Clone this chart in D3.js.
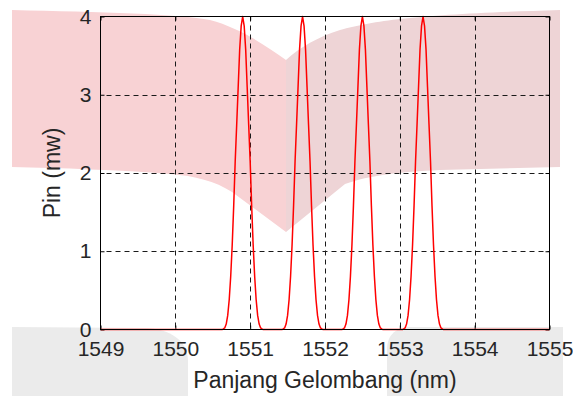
<!DOCTYPE html>
<html>
<head>
<meta charset="utf-8">
<script src="https://cdn.jsdelivr.net/npm/d3@7/dist/d3.min.js"></script>
<style>
  html, body { margin: 0; padding: 0; background: #fff; }
  svg { display: block; }
  text { font-family: "Liberation Sans", Arial, sans-serif; fill: #262626; }
</style>
</head>
<body>
<svg id="chart" width="573" height="396"></svg>
<script>
// Four DWDM channels: received power (mW) against wavelength (nm)
const wavelength = [
  1549.00,
  1550.63, 1550.66, 1550.68, 1550.70, 1550.72, 1550.74, 1550.76, 1550.78, 1550.80, 1550.82, 1550.84, 1550.86, 1550.88,
  1550.90,
  1550.92, 1550.94, 1550.96, 1550.98, 1551.00, 1551.02, 1551.04, 1551.06, 1551.08, 1551.10, 1551.12, 1551.14, 1551.17,
  1551.43, 1551.46, 1551.48, 1551.50, 1551.52, 1551.54, 1551.56, 1551.58, 1551.60, 1551.62, 1551.64, 1551.66, 1551.68,
  1551.70,
  1551.72, 1551.74, 1551.76, 1551.78, 1551.80, 1551.82, 1551.84, 1551.86, 1551.88, 1551.90, 1551.92, 1551.94, 1551.97,
  1552.23, 1552.26, 1552.28, 1552.30, 1552.32, 1552.34, 1552.36, 1552.38, 1552.40, 1552.42, 1552.44, 1552.46, 1552.48,
  1552.50,
  1552.52, 1552.54, 1552.56, 1552.58, 1552.60, 1552.62, 1552.64, 1552.66, 1552.68, 1552.70, 1552.72, 1552.74, 1552.77,
  1553.04, 1553.07, 1553.09, 1553.11, 1553.13, 1553.15, 1553.17, 1553.19, 1553.21, 1553.23, 1553.25, 1553.27, 1553.29,
  1553.31,
  1553.33, 1553.35, 1553.37, 1553.39, 1553.41, 1553.43, 1553.45, 1553.47, 1553.49, 1553.51, 1553.53, 1553.55, 1553.58,
  1555.00
];
const power = [
  0,
  0, 0.02, 0.07, 0.18, 0.38, 0.68, 1.08, 1.58, 2.15, 2.62, 3.10, 3.58, 3.88,
  4.00,
  3.88, 3.58, 3.10, 2.62, 2.15, 1.58, 1.08, 0.68, 0.38, 0.18, 0.07, 0.02, 0,
  0, 0.02, 0.07, 0.18, 0.38, 0.68, 1.08, 1.58, 2.15, 2.62, 3.10, 3.58, 3.88,
  4.00,
  3.88, 3.58, 3.10, 2.62, 2.15, 1.58, 1.08, 0.68, 0.38, 0.18, 0.07, 0.02, 0,
  0, 0.02, 0.07, 0.18, 0.38, 0.68, 1.08, 1.58, 2.15, 2.62, 3.10, 3.58, 3.88,
  4.00,
  3.88, 3.58, 3.10, 2.62, 2.15, 1.58, 1.08, 0.68, 0.38, 0.18, 0.07, 0.02, 0,
  0, 0.02, 0.07, 0.18, 0.38, 0.68, 1.08, 1.58, 2.15, 2.62, 3.10, 3.58, 3.88,
  4.00,
  3.88, 3.58, 3.10, 2.62, 2.15, 1.58, 1.08, 0.68, 0.38, 0.18, 0.07, 0.02, 0,
  0
];
const xTicks = [1549, 1550, 1551, 1552, 1553, 1554, 1555];
const yTicks = [0, 1, 2, 3, 4];
const xLabel = "Panjang Gelombang (nm)";
const yLabel = "Pin (mw)";

const svg = d3.select("#chart");
const plot = { left: 100.5, right: 549.5, top: 16.5, bottom: 329.5 };

const x = d3.scaleLinear().domain([1549, 1555]).range([plot.left, plot.right]);
const y = d3.scaleLinear().domain([0, 4]).range([plot.bottom, plot.top]);

// Background stamp: pink band and grey corner blocks behind the axes
const bg = svg.append("g");
bg.append("path")
  .attr("d", "M12,10 C100,12 180,14 210,20 C240,28 265,45 286,60 L286,232 L232,192 C215,181 195,176 170,174 C120,170 60,168 12,167 Z")
  .attr("fill", "rgb(248,210,212)");
bg.append("path")
  .attr("d", "M286,60 C300,47 318,37 340,30 C380,19 430,14 560,10 L560,167 L440,170 C400,172 370,175 345,184 L286,232 Z")
  .attr("fill", "rgb(238,212,214)");
bg.append("path")
  .attr("d", "M12,327 L145,328 C170,329 187,340 188,360 L188,396 L12,396 Z")
  .attr("fill", "#ebebeb");
bg.append("path")
  .attr("d", "M387,396 L387,350 C387,336 394,328 410,327 L563,327 L563,396 Z")
  .attr("fill", "#ebebeb");

// Dashed grid
const grid = svg.append("g")
  .attr("stroke", "#1a1a1a")
  .attr("stroke-width", 1)
  .attr("stroke-dasharray", "5,4");
grid.selectAll("line.v")
  .data(xTicks.slice(1, -1))
  .join("line")
  .attr("class", "v")
  .attr("x1", d => Math.round(x(d)) + 0.5).attr("x2", d => Math.round(x(d)) + 0.5)
  .attr("y1", plot.top).attr("y2", plot.bottom);
grid.selectAll("line.h")
  .data(yTicks.slice(1, -1))
  .join("line")
  .attr("class", "h")
  .attr("y1", d => Math.round(y(d)) + 0.5).attr("y2", d => Math.round(y(d)) + 0.5)
  .attr("x1", plot.left + 6).attr("x2", plot.right);

// Axes with inward ticks on all four sides
const tickFont = 21;
const titleFont = 23;
const gx = svg.append("g")
  .attr("transform", `translate(0,${plot.bottom})`)
  .call(d3.axisBottom(x).tickValues(xTicks).tickFormat(d3.format("d")).tickSize(-4).tickPadding(12));
const gxTop = svg.append("g")
  .attr("transform", `translate(0,${plot.top})`)
  .call(d3.axisTop(x).tickValues(xTicks).tickSize(-4).tickFormat(""));
const gy = svg.append("g")
  .attr("transform", `translate(${plot.left},0)`)
  .call(d3.axisLeft(y).tickValues(yTicks).tickFormat(d3.format("d")).tickSize(-4).tickPadding(9));
const gyRight = svg.append("g")
  .attr("transform", `translate(${plot.right},0)`)
  .call(d3.axisRight(y).tickValues(yTicks).tickSize(-4).tickFormat(""));

[gx, gxTop, gy, gyRight].forEach(g => {
  g.select(".domain").remove();
  g.selectAll(".tick line").attr("stroke", "#000");
  g.selectAll("text")
    .attr("font-size", tickFont)
    .attr("font-family", "'Liberation Sans', Arial, sans-serif")
    .attr("fill", "#262626");
});

// Spectrum trace
const pts = wavelength.map((w, i) => [w, power[i]]);
svg.append("path")
  .datum(pts)
  .attr("fill", "none")
  .attr("stroke", "#ff0000")
  .attr("stroke-width", 1.5)
  .attr("stroke-linejoin", "round")
  .attr("d", d3.line().x(d => x(d[0])).y(d => y(d[1])));

// Axes box
svg.append("rect")
  .attr("x", plot.left).attr("y", plot.top)
  .attr("width", plot.right - plot.left).attr("height", plot.bottom - plot.top)
  .attr("fill", "none")
  .attr("stroke", "#000")
  .attr("stroke-width", 1);

// Axis titles
svg.append("text")
  .attr("x", (plot.left + plot.right) / 2)
  .attr("y", 388)
  .attr("text-anchor", "middle")
  .attr("font-size", titleFont)
  .text(xLabel);
svg.append("text")
  .attr("transform", `translate(60,${(plot.top + plot.bottom) / 2}) rotate(-90)`)
  .attr("text-anchor", "middle")
  .attr("font-size", titleFont)
  .text(yLabel);
</script>
</body>
</html>
